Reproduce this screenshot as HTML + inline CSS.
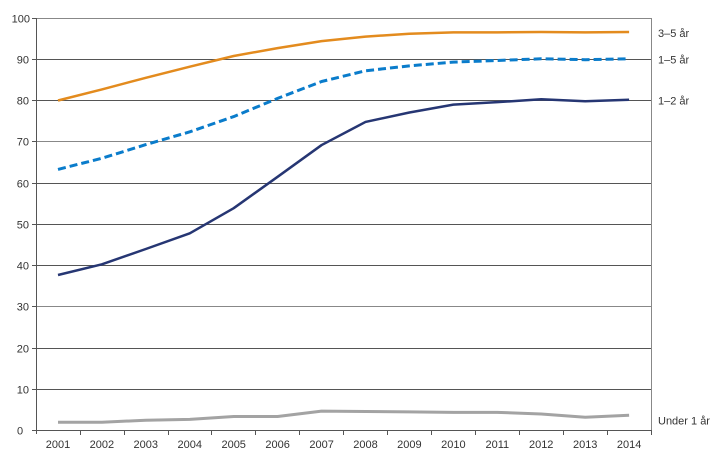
<!DOCTYPE html>
<html><head><meta charset="utf-8"><style>
html,body{margin:0;padding:0;background:#fff;}
svg{display:block;}
text{font-family:"Liberation Sans",sans-serif;font-size:11px;fill:#333;}
</style></head><body>
<svg width="719" height="468" viewBox="0 0 719 468" xmlns="http://www.w3.org/2000/svg">
<g stroke="#555" stroke-width="1" fill="none">
<line x1="36" y1="18.5" x2="651" y2="18.5" stroke="#888"/>
<line x1="36" y1="59.5" x2="651" y2="59.5"/>
<line x1="36" y1="100.5" x2="651" y2="100.5"/>
<line x1="36" y1="141.5" x2="651" y2="141.5" stroke="#888"/>
<line x1="36" y1="183.5" x2="651" y2="183.5"/>
<line x1="36" y1="224.5" x2="651" y2="224.5"/>
<line x1="36" y1="265.5" x2="651" y2="265.5"/>
<line x1="36" y1="306.5" x2="651" y2="306.5" stroke="#888"/>
<line x1="36" y1="348.5" x2="651" y2="348.5"/>
<line x1="36" y1="389.5" x2="651" y2="389.5"/>
<line x1="36" y1="430.5" x2="651" y2="430.5"/>
<line x1="651.5" y1="18" x2="651.5" y2="434" stroke="#888"/>
<line x1="36.5" y1="18" x2="36.5" y2="434"/>
<!-- y ticks -->
<line x1="32" y1="18.5" x2="36" y2="18.5"/>
<line x1="32" y1="59.5" x2="36" y2="59.5"/>
<line x1="32" y1="100.5" x2="36" y2="100.5"/>
<line x1="32" y1="141.5" x2="36" y2="141.5"/>
<line x1="32" y1="183.5" x2="36" y2="183.5"/>
<line x1="32" y1="224.5" x2="36" y2="224.5"/>
<line x1="32" y1="265.5" x2="36" y2="265.5"/>
<line x1="32" y1="306.5" x2="36" y2="306.5"/>
<line x1="32" y1="348.5" x2="36" y2="348.5"/>
<line x1="32" y1="389.5" x2="36" y2="389.5"/>
<line x1="32" y1="430.5" x2="36" y2="430.5"/>
<!-- x ticks -->
<line x1="80.5" y1="430" x2="80.5" y2="435"/>
<line x1="124.5" y1="430" x2="124.5" y2="435"/>
<line x1="168.5" y1="430" x2="168.5" y2="435"/>
<line x1="211.5" y1="430" x2="211.5" y2="435"/>
<line x1="255.5" y1="430" x2="255.5" y2="435"/>
<line x1="299.5" y1="430" x2="299.5" y2="435"/>
<line x1="343.5" y1="430" x2="343.5" y2="435"/>
<line x1="387.5" y1="430" x2="387.5" y2="435"/>
<line x1="431.5" y1="430" x2="431.5" y2="435"/>
<line x1="475.5" y1="430" x2="475.5" y2="435"/>
<line x1="519.5" y1="430" x2="519.5" y2="435"/>
<line x1="563.5" y1="430" x2="563.5" y2="435"/>
<line x1="607.5" y1="430" x2="607.5" y2="435"/>
<line x1="651.5" y1="430" x2="651.5" y2="435"/>
</g>
<!-- series -->
<polyline fill="none" stroke="#a3a3a3" stroke-width="3" stroke-linejoin="round"
 points="58,422.25 101.9,422.25 145.8,420.2 189.8,419.4 233.7,416.5 277.6,416.5 321.6,411.1 365.5,411.5 409.4,411.9 453.4,412.35 497.3,412.35 541.2,414 585.2,417.3 629.1,415.25"/>
<polyline fill="none" stroke="#263673" stroke-width="2.5" stroke-linejoin="round"
 points="58,275 101.9,264.3 145.8,249 189.8,233.3 233.7,208.2 277.6,176.8 321.6,145.05 365.5,121.95 409.4,112.5 453.4,104.6 497.3,102.15 541.2,99.25 585.2,101.3 629.1,99.7"/>
<polyline fill="none" stroke="#0a7ccb" stroke-width="3" stroke-dasharray="8 4" stroke-linejoin="round"
 points="58,169.4 101.9,158.25 145.8,144.6 189.8,131.85 233.7,116.6 277.6,98.4 321.6,81.5 365.5,70.8 409.4,65.85 453.4,62.1 497.3,60.5 541.2,58.8 585.2,59.7 629.1,58.8"/>
<polyline fill="none" stroke="#e38b1e" stroke-width="2.5" stroke-linejoin="round"
 points="58,100.5 101.9,89.4 145.8,77.8 189.8,66.7 233.7,56 277.6,48.1 321.6,41.1 365.5,36.6 409.4,33.7 453.4,32.4 497.3,32.4 541.2,32 585.2,32.4 629.1,32"/>
<!-- y labels -->
<g text-anchor="end">
<text x="30" y="22.5">100</text>
<text x="29" y="63.5">90</text>
<text x="29" y="104.5">80</text>
<text x="29" y="145.5">70</text>
<text x="29" y="187.5">60</text>
<text x="29" y="228.5">50</text>
<text x="29" y="269.5">40</text>
<text x="29" y="310.5">30</text>
<text x="29" y="352.5">20</text>
<text x="29" y="393.5">10</text>
</g>
<text x="17" y="434.5">0</text>
<!-- x labels -->
<g text-anchor="middle">
<text x="58" y="448">2001</text>
<text x="101.9" y="448">2002</text>
<text x="145.8" y="448">2003</text>
<text x="189.8" y="448">2004</text>
<text x="233.7" y="448">2005</text>
<text x="277.6" y="448">2006</text>
<text x="321.6" y="448">2007</text>
<text x="365.5" y="448">2008</text>
<text x="409.4" y="448">2009</text>
<text x="453.4" y="448">2010</text>
<text x="497.3" y="448">2011</text>
<text x="541.2" y="448">2012</text>
<text x="585.2" y="448">2013</text>
<text x="629.1" y="448">2014</text>
</g>
<!-- series labels -->
<text x="658" y="37">3–5 år</text>
<text x="658" y="63.5">1–5 år</text>
<text x="658" y="104.5">1–2 år</text>
<text x="658" y="424.5">Under 1 år</text>
</svg>
</body></html>
